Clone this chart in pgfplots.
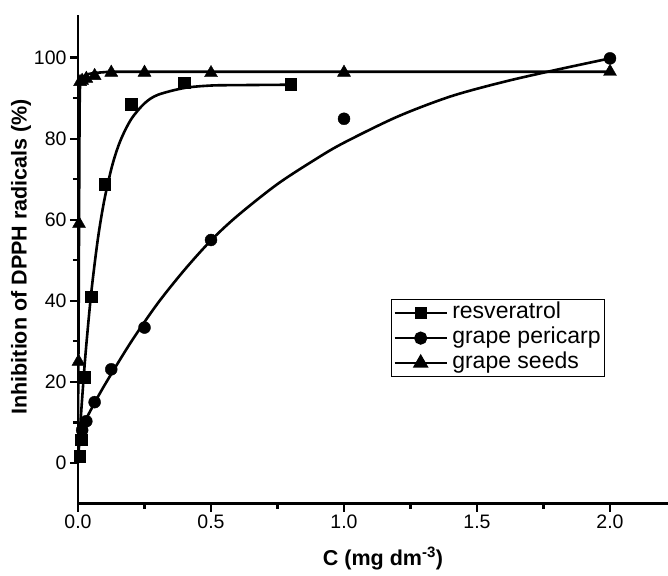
\documentclass[border=0pt]{standalone}
\usepackage{fontspec}
\setmainfont{Liberation Sans}
\usepackage{pgfplots}
\pgfplotsset{compat=1.18}
\usetikzlibrary{calc}

\begin{document}
\begin{tikzpicture}
\begin{axis}[
  scale only axis,
  width=590pt, height=488.5pt,
  xmin=0, xmax=2.218,
  ymin=-10, ymax=110.5,
  axis x line=bottom, axis y line=left,
  axis line style={-, line width=2.2pt},
  tick align=outside,
  tick style={black, line width=2.2pt},
  major tick length=8pt, minor tick length=5pt,
  xtick={0,0.5,1,1.5,2}, minor x tick num=1,
  ytick={0,20,40,60,80,100}, minor y tick num=1,
  /pgf/number format/assume math mode=true,
  xticklabel style={/pgf/number format/.cd, fixed, fixed zerofill, precision=1},
  ticklabel style={font=\fontsize{19.5}{20}\selectfont},
  xlabel={C (mg dm\textsuperscript{-3})},
  ylabel={Inhibition of DPPH radicals (\%)},
  label style={font=\fontsize{21.5}{22}\selectfont\bfseries},
  xlabel style={at={(axis description cs:0.517,-0.1126)}, anchor=center},
  ylabel style={at={(axis description cs:-0.0966,0.505)}, anchor=center, rotate=0},
  legend style={at={(rel axis cs:0.5305,0.4186)}, anchor=north west,
    draw=black, line width=1.2pt, inner xsep=2pt, inner ysep=3pt,
    font=\fontsize{23}{24}\selectfont, row sep=4pt, column sep=3pt,
    nodes={inner xsep=1.5pt, inner ysep=0pt, text height=16pt, text depth=5pt}},
  legend cell align=left,
  legend image code/.code={\draw[mark repeat=2,mark phase=2,line width=2.2pt]
    plot coordinates {(0pt,0pt)(26pt,0pt)(52pt,0pt)};},
]
% fitted curves
\addplot[black, line width=2.6pt, smooth, forget plot] coordinates {
  (0,0) (0.01,10.6) (0.02,19.9) (0.03,28.2) (0.05,42.1) (0.075,55.4)
  (0.1,65.2) (0.13,73.7) (0.16,79.6) (0.2,84.8) (0.25,88.7) (0.3,90.8)
  (0.4,92.5) (0.5,93.1) (0.6,93.2) (0.8,93.3)
};
\addplot[black, line width=2.6pt, smooth, forget plot] coordinates {
  (0,7) (0.05,13.3) (0.1,19.2) (0.2,29.9) (0.3,39.4) (0.4,47.6) (0.5,54.9)
  (0.6,61.0) (0.75,68.8) (0.9,75.2) (1.0,79.0) (1.2,85.4) (1.4,90.4)
  (1.6,94.0) (1.8,97.0) (2.0,99.8)
};
\addplot[black, line width=2.6pt, forget plot] coordinates {
  (0,8) (0.001,20) (0.002,30) (0.003,45) (0.004,60) (0.005,75) (0.006,87)
  (0.007,92) (0.009,94) (0.015,95) (0.03,95.8) (0.06,96.2) (0.12,96.5) (2.0,96.5)
};
% measured points
\addplot[only marks, mark=square*, mark size=5.8pt, black, forget plot] coordinates {
  (0.00625,1.7) (0.0125,5.7) (0.025,21.2) (0.05,41) (0.1,68.8)
  (0.2,88.5) (0.4,93.8) (0.8,93.5)
};
\addplot[only marks, mark=*, mark size=6pt, black, forget plot] coordinates {
  (0.0156,8.1) (0.03125,10.3) (0.0625,15) (0.125,23.1) (0.25,33.4)
  (0.5,55) (1.0,84.9) (2.0,99.8)
};
\addplot[only marks, mark=triangle*, mark size=7.5pt, black, forget plot] coordinates {
  (0.002,25) (0.0039,59) (0.0078,94) (0.0156,94.3) (0.03125,94.8)
  (0.0625,95.5) (0.125,96.3) (0.25,96.3) (0.5,96.2) (1.0,96.3) (2.0,96.5)
};
\addlegendimage{black, mark=square*, mark size=5pt}
\addlegendentry{resveratrol}
\addlegendimage{black, mark=*, mark size=5.5pt}
\addlegendentry{grape pericarp}
\addlegendimage{black, mark=triangle*, mark size=7pt}
\addlegendentry{grape seeds}
\end{axis}
\pgfresetboundingbox
\path[use as bounding box] ($(current axis.south west)+(-78pt,-71.5pt)$)
  rectangle ($(current axis.north east)+(0pt,15pt)$);
\end{tikzpicture}
\end{document}
